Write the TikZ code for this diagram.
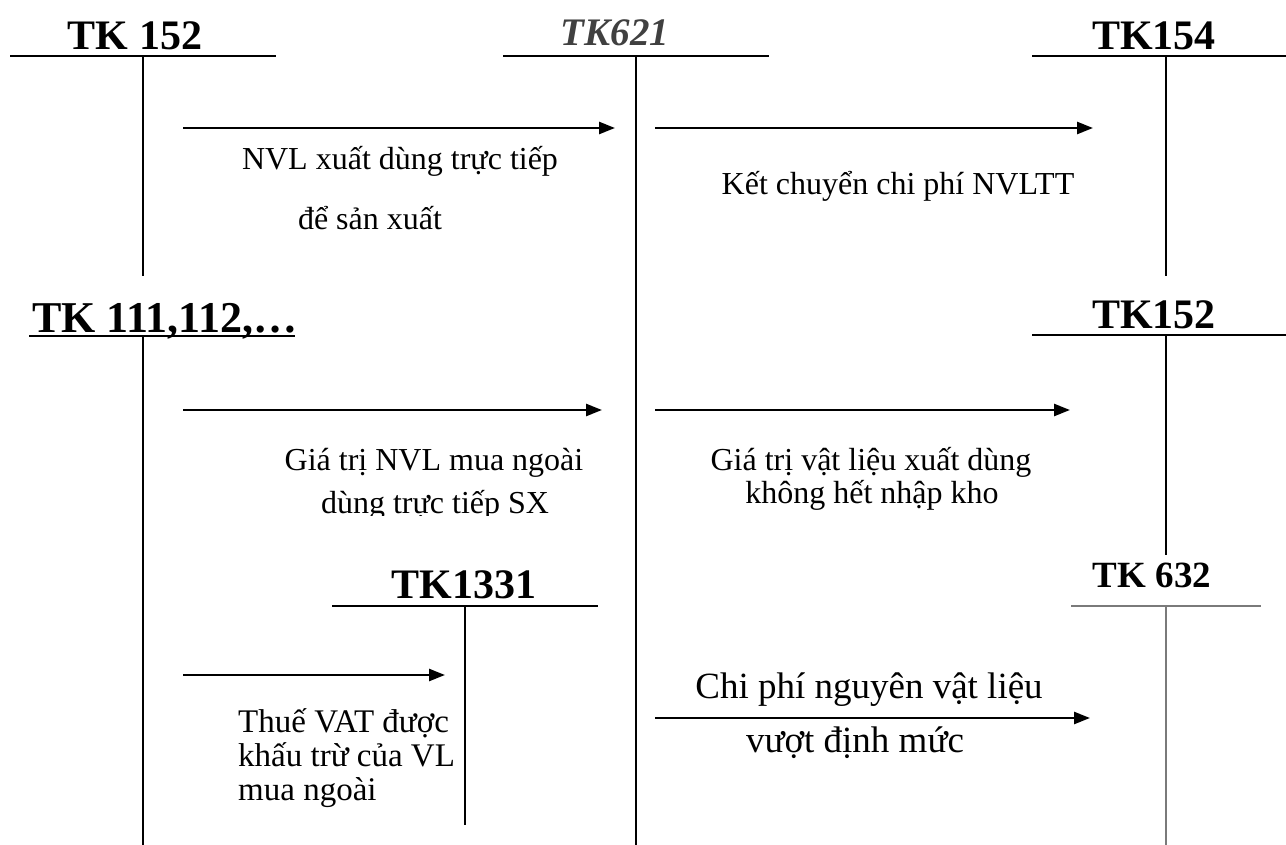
\documentclass[tikz,border=0pt]{standalone}
\usepackage{fontspec}
\setmainfont{Liberation Serif}
\usetikzlibrary{arrows.meta}

\definecolor{titlegray}{HTML}{404040}
\definecolor{linegray}{HTML}{7A7A7A}

\begin{document}
\begin{tikzpicture}[
    x=1pt, y=-1pt,
    acct/.style={anchor=base, inner sep=0pt, font=\bfseries\fontsize{42}{42}\selectfont},
    note/.style={anchor=base, inner sep=0pt, font=\fontsize{32}{34}\selectfont},
    tline/.style={line width=2pt},
    arrow/.style={-{Triangle[length=16pt, width=12pt]}, line width=2.5pt}
]
\useasboundingbox (0,0) rectangle (1286,845);

% T accounts
\node[acct] (acc152) at (135,50) {TK 152};
\draw[tline] (10,56) -- (276,56);
\draw[tline] (143,56) -- (143,276);

\node[acct, font=\bfseries\itshape\fontsize{39}{39}\selectfont, text=titlegray] (acc621) at (615,46) {TK621};
\draw[tline] (503,56) -- (769,56);
\draw[tline] (636,56) -- (636,845);

\node[acct] (acc154) at (1154,50) {TK154};
\draw[tline] (1032,56) -- (1286,56);
\draw[tline] (1166,56) -- (1166,276);

\node[acct, anchor=base west, font=\bfseries\fontsize{44}{44}\selectfont] (acc111) at (32,332) {TK 111,112,…};
\draw[tline] (29,336) -- (295,336);
\draw[tline] (143,336) -- (143,845);

\node[acct] (acc152b) at (1154,328) {TK152};
\draw[tline] (1032,335) -- (1286,335);
\draw[tline] (1166,335) -- (1166,555);

\node[acct] (acc1331) at (464,598) {TK1331};
\draw[tline] (332,606) -- (598,606);
\draw[tline] (465,606) -- (465,825);

\node[acct, font=\bfseries\fontsize{37}{37}\selectfont] (acc632) at (1152,587) {TK 632};
\draw[tline, linegray] (1071,606) -- (1261,606);
\draw[tline, linegray] (1166,606) -- (1166,845);

% arrow ends
\coordinate (a1s) at (183,128); \coordinate (a1e) at (615,128);
\coordinate (a2s) at (655,128); \coordinate (a2e) at (1093,128);
\coordinate (a3s) at (183,410); \coordinate (a3e) at (602,410);
\coordinate (a4s) at (655,410); \coordinate (a4e) at (1070,410);
\coordinate (a5s) at (183,675); \coordinate (a5e) at (445,675);
\coordinate (a6s) at (655,718); \coordinate (a6e) at (1090,718);

\draw[arrow] (a1s) -- (a1e);
\draw[arrow] (a2s) -- (a2e);
\draw[arrow] (a3s) -- (a3e);
\draw[arrow] (a4s) -- (a4e);
\draw[arrow] (a5s) -- (a5e);
\draw[arrow] (a6s) -- (a6e);

% labels
\node[note] (n1a) at (400,170) {NVL xuất dùng trực tiếp};
\node[note] (n1b) at (370,230) {để sản xuất};
\node[note] (n2) at (898,195) {Kết chuyển chi phí NVLTT};
\node[note] (n3a) at (434,470) {Giá trị NVL mua ngoài};
\begin{scope}
  \clip (250,480) rectangle (630,515);
  \node[note] (n3b) at (435,513) {dùng trực tiếp SX};
\end{scope}
\node[note] (n4a) at (871,470) {Giá trị vật liệu xuất dùng};
\node[note] (n4b) at (872,503) {không hết nhập kho};
\node[note, anchor=base west, font=\fontsize{33}{34}\selectfont] (n5a) at (238,732) {Thuế VAT được};
\node[note, anchor=base west, font=\fontsize{33}{34}\selectfont] (n5b) at (238,766) {khấu trừ của VL};
\node[note, anchor=base west, font=\fontsize{33}{34}\selectfont] (n5c) at (238,800) {mua ngoài};
\node[note, font=\fontsize{37}{37}\selectfont] (n6a) at (869,698) {Chi phí nguyên vật liệu};
\node[note, font=\fontsize{37}{37}\selectfont] (n6b) at (855,752) {vượt định mức};
\end{tikzpicture}
\end{document}
